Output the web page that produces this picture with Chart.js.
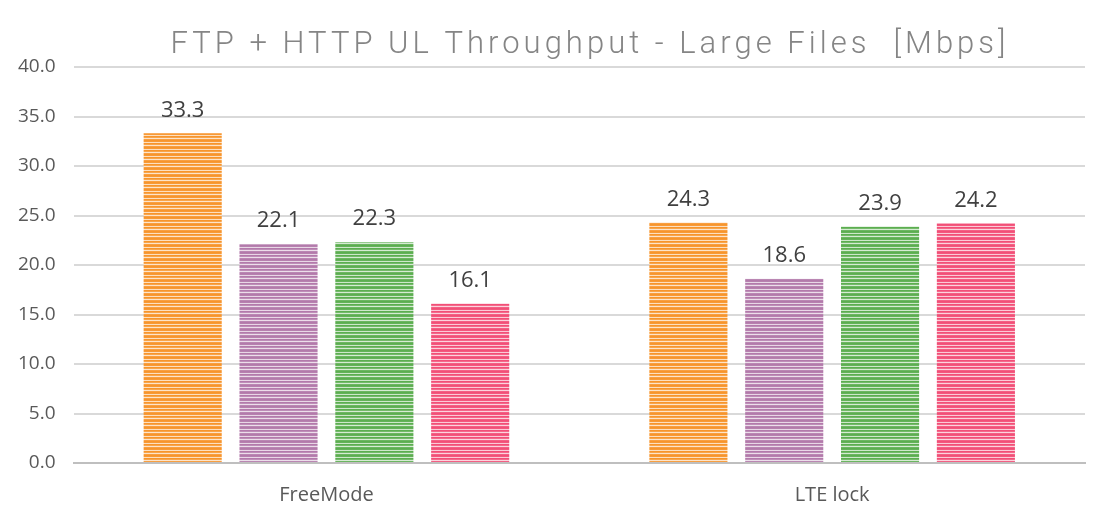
<!DOCTYPE html>
<html>
<head>
<meta charset="utf-8">
<script src="https://cdn.jsdelivr.net/npm/chart.js@4"></script>
<style>
  html, body { margin: 0; padding: 0; background: #fff; }
  #wrap { width: 1117px; height: 512px; }
</style>
</head>
<body>
<div id="wrap"><canvas id="c"></canvas></div>
<script>
/* FTP + HTTP UL throughput, large files */

const TITLE = "FTP + HTTP UL Throughput - Large Files  [Mbps]";
const categories = ["FreeMode", "LTE lock"];
const seriesNames = ["Series 1", "Series 2", "Series 3", "Series 4"];
const series1 = [33.3, 24.3];
const series2 = [22.1, 18.6];
const series3 = [22.3, 23.9];
const series4 = [16.1, 24.2];
const yTicks = [0, 5, 10, 15, 20, 25, 30, 35, 40];

const COLORS = ["#f7952c", "#b37aab", "#5cae50", "#f24f77"];
const FONT = "'Open Sans', 'Liberation Sans', sans-serif";

function stripePattern(hex) {
  const cv = document.createElement("canvas");
  cv.width = 8;
  cv.height = 7;
  const g = cv.getContext("2d");
  const rows = [1, 0.95, 0.3, 1, 0.85, 0.25, 0.9];
  rows.forEach((a, i) => {
    g.fillStyle = "#ffffff";
    g.fillRect(0, i, 8, 1);
    g.globalAlpha = a;
    g.fillStyle = hex;
    g.fillRect(0, i, 8, 1);
    g.globalAlpha = 1;
  });
  return g.createPattern(cv, "repeat");
}

const valueLabels = {
  id: "valueLabels",
  afterDatasetsDraw(chart) {
    const ctx = chart.ctx;
    ctx.save();
    ctx.font = "22px " + FONT;
    ctx.fillStyle = "#404040";
    ctx.textAlign = "center";
    ctx.textBaseline = "bottom";
    chart.data.datasets.forEach((ds, i) => {
      chart.getDatasetMeta(i).data.forEach((bar, j) => {
        ctx.fillText(ds.data[j].toFixed(1), bar.x, bar.y - 12);
      });
    });
    ctx.restore();
  },
};

const spacedTitle = {
  id: "spacedTitle",
  afterDraw(chart) {
    const ctx = chart.ctx;
    ctx.save();
    ctx.font = "300 31px Roboto, sans-serif";
    ctx.fillStyle = "#858585";
    ctx.textBaseline = "middle";
    ctx.textAlign = "left";
    const target = 835;
    const plain = ctx.measureText(TITLE).width;
    const sp = Math.max(0, (target - plain) / (TITLE.length - 1));
    ctx.letterSpacing = sp.toFixed(2) + "px";
    const w = ctx.measureText(TITLE).width - sp;
    ctx.fillText(TITLE, 588 - w / 2, 45);
    ctx.restore();
  },
};

const datasets = [series1, series2, series3, series4].map((d, i) => ({
  label: seriesNames[i],
  data: d,
  backgroundColor: stripePattern(COLORS[i]),
  borderWidth: 0,
  categoryPercentage: 0.758,
  barPercentage: 0.815,
}));

new Chart(document.getElementById("c"), {
  type: "bar",
  data: { labels: categories, datasets },
  options: {
    responsive: true,
    maintainAspectRatio: false,
    animation: false,
    layout: { padding: { top: 67, right: 32, left: 0, bottom: -15 } },
    plugins: {
      legend: { display: false },
      title: { display: false },
      tooltip: { enabled: false },
    },
    scales: {
      x: {
        grid: { display: false, drawTicks: false },
        border: { display: true, color: "#bfbfbf", width: 2 },
        ticks: {
          color: "#595959",
          padding: 20,
          font: { size: 20, family: FONT },
        },
      },
      y: {
        min: 0,
        max: 40,
        afterBuildTicks: (axis) => { axis.ticks = yTicks.map((v) => ({ value: v })); },
        grid: { color: "#d9d9d9", lineWidth: 2, drawTicks: false },
        border: { display: false },
        ticks: {
          color: "#595959",
          padding: 18,
          font: { size: 19, family: FONT },
          callback: (v) => Number(v).toFixed(1),
        },
      },
    },
  },
  plugins: [valueLabels, spacedTitle],
});
</script>
</body>
</html>
